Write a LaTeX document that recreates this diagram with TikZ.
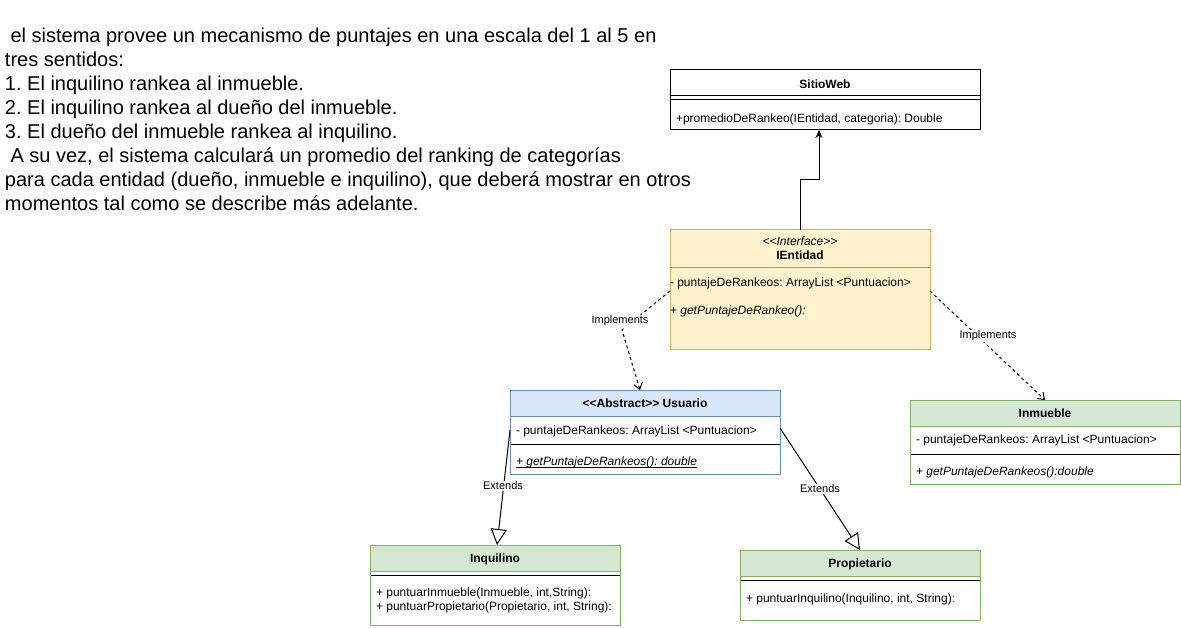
\documentclass[tikz,border=0pt]{standalone}
\usepackage{fontspec}
\setmainfont{Liberation Sans}
\usetikzlibrary{arrows.meta,calc}
\frenchspacing
\definecolor{blueF}{HTML}{DAE8FC}
\definecolor{blueS}{HTML}{6C8EBF}
\definecolor{greenF}{HTML}{D5E8D4}
\definecolor{greenS}{HTML}{82B366}
\definecolor{yellowF}{HTML}{FFF2CC}
\definecolor{yellowS}{HTML}{D6B656}
\definecolor{sepgray}{HTML}{9A9A9A}
\begin{document}
\begin{tikzpicture}[x=1pt,y=-1pt, line width=1pt,
  every node/.style={inner sep=0pt, outer sep=0pt},
  txt/.style={anchor=base west, font=\fontsize{12}{14.4}\selectfont},
  ttl/.style={anchor=base, font=\fontsize{12}{14.4}\selectfont\bfseries},
  desc/.style={anchor=base west, font=\fontsize{20}{24}\selectfont},
  lbl/.style={fill=white, inner sep=1pt, font=\fontsize{11}{13}\selectfont},
  hdr/.style={draw, rectangle, anchor=north west, minimum height=26pt},
  bodyb/.style={draw, rectangle, anchor=north west, fill=white},
  impl/.style={dash pattern=on 3pt off 3pt, -{Straight Barb[length=6pt,width=9pt]}},
  ext/.style={-{Triangle[open,fill=white,length=16pt,width=16pt]}},
]
\useasboundingbox (0,0) rectangle (1181,628);

% description text
\node[desc] (d1) at (5,43) {\hspace*{5.56pt}el sistema provee un mecanismo de puntajes en una escala del 1 al 5 en};
\node[desc] (d2) at (5,67) {tres sentidos:};
\node[desc] (d3) at (5,91) {1. El inquilino rankea al inmueble.};
\node[desc] (d4) at (5,115) {2. El inquilino rankea al dueño del inmueble.};
\node[desc] (d5) at (5,139) {3. El dueño del inmueble rankea al inquilino.};
\node[desc] (d6) at (5,163) {\hspace*{5.56pt}A su vez, el sistema calculará un promedio del ranking de categorías};
\node[desc] (d7) at (5,187) {para cada entidad (dueño, inmueble e inquilino), que deberá mostrar en otros};
\node[desc] (d8) at (5,211) {momentos tal como se describe más adelante.};

% SitioWeb
\node[hdr, minimum width=310pt] (sw) at (670,70) {};
\node[bodyb, minimum width=310pt, minimum height=34pt] (swb) at (670,96) {};
\draw ($(swb.north west)+(0,4)$) -- ($(swb.north east)+(0,4)$);
\node[ttl] (swt) at (825,88.5) {SitioWeb};
\node[txt] (swm) at (676,122.5) {+promedioDeRankeo(IEntidad, categoria): Double};

% IEntidad
\node[draw=yellowS, fill=yellowF, rectangle, anchor=north west, minimum width=260pt, minimum height=120pt] (ie) at (670,230) {};
\draw[sepgray] ($(ie.north west)+(0.5,38)$) -- ($(ie.north east)+(-0.5,38)$);
\node[anchor=base, font=\fontsize{12}{14.4}\selectfont\itshape] (iest) at (800,245.5) {<{}<Interface>{}>};
\node[ttl] (iet) at (800,259.5) {IEntidad};
\node[txt] (iea) at (670,286.5) {- puntajeDeRankeos: ArrayList <Puntuacion>};
\node[txt] (iem) at (670,314.5) {+ \textit{getPuntajeDeRankeo():}};

% Usuario
\node[hdr, draw=blueS, fill=blueF, minimum width=270pt] (us) at (510,390) {};
\node[bodyb, draw=blueS, minimum width=270pt, minimum height=58pt] (usb) at (510,416) {};
\draw ($(usb.north west)+(0.5,28)$) -- ($(usb.north east)+(-0.5,28)$);
\node[ttl] (ust) at (645,407.5) {<{}<Abstract>{}> Usuario};
\node[txt] (usa) at (516,434.5) {- puntajeDeRankeos: ArrayList <Puntuacion>};
\node[txt] (usm) at (516,465.5) {\textit{+ getPuntajeDeRankeos(): double}};
\draw[line width=0.8pt] ($(usm.base west)+(0,1.6)$) -- ($(usm.base east)+(0,1.6)$);

% Inmueble
\node[hdr, draw=greenS, fill=greenF, minimum width=270pt] (in) at (910,400) {};
\node[bodyb, draw=greenS, minimum width=270pt, minimum height=58pt] (inb) at (910,426) {};
\draw ($(inb.north west)+(0.5,28)$) -- ($(inb.north east)+(-0.5,28)$);
\node[ttl] (int) at (1045,417.5) {Inmueble};
\node[txt] (ina) at (916,443.5) {- puntajeDeRankeos: ArrayList <Puntuacion>};
\node[txt] (inm) at (916,475.5) {+ \textit{getPuntajeDeRankeos():double}};

% Inquilino
\node[hdr, draw=greenS, fill=greenF, minimum width=250pt] (iq) at (370,545) {};
\node[bodyb, draw=greenS, minimum width=250pt, minimum height=54pt] (iqb) at (370,571) {};
\draw ($(iqb.north west)+(0.5,4)$) -- ($(iqb.north east)+(-0.5,4)$);
\node[ttl] (iqt) at (495,562.5) {Inquilino};
\node[txt] (iqm1) at (376,596.5) {+ puntuarInmueble(Inmueble, int,String):};
\node[txt] (iqm2) at (376,610.5) {+ puntuarPropietario(Propietario, int, String):};

% Propietario
\node[hdr, draw=greenS, fill=greenF, minimum width=240pt] (pr) at (740,550) {};
\node[bodyb, draw=greenS, minimum width=240pt, minimum height=44pt] (prb) at (740,576) {};
\draw ($(prb.north west)+(0.5,4)$) -- ($(prb.north east)+(-0.5,4)$);
\node[ttl] (prt) at (860,567.5) {Propietario};
\node[txt] (prm) at (746,602.5) {+ puntuarInquilino(Inquilino, int, String):};

% connectors
\coordinate (swin) at ($(swb.south west)+(149,0)$);
\draw[-{Stealth[length=8pt,width=7pt]}] (ie.north) -- ++(0,-50) -| (swin);

\coordinate (wp1) at (622,330);
\draw[impl] ($(ie.north west)+(0,61)$) -- (wp1) -- ($(us.north west)+(130,0)$);
\node[lbl] (l1) at (620,321) {Implements};

\draw[impl] ($(ie.north east)+(0,61)$) -- (in.north);
\node[lbl] (l2) at (988,336) {Implements};

\draw[ext] ($(usb.north west)+(0,14)$) -- ($(iq.north west)+(127,0)$);
\node[lbl] (l3) at (503,486) {Extends};

\draw[ext] ($(usb.north east)+(0,12)$) -- (pr.north);
\node[lbl] (l4) at (820,489) {Extends};
\end{tikzpicture}
\end{document}
